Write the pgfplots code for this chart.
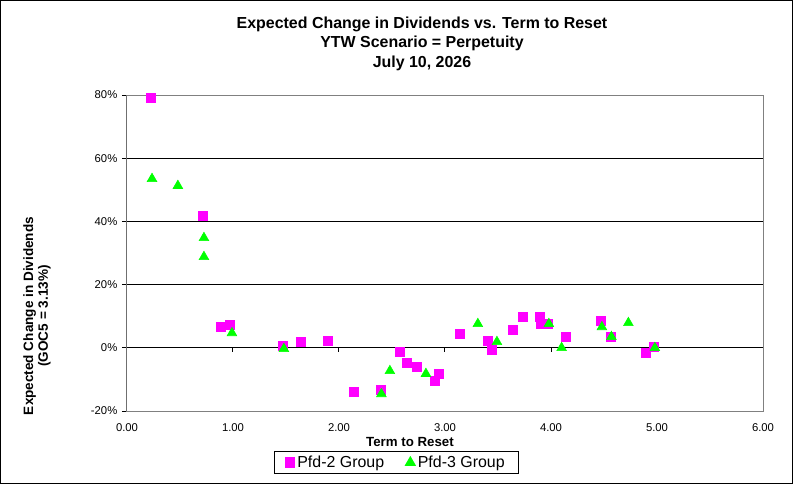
\documentclass[border=0pt]{standalone}
\usepackage{fontspec}
\setmainfont{Liberation Sans}
\usepackage{pgfplots}
\pgfplotsset{compat=1.18}
\definecolor{pmag}{RGB}{255,0,255}
\definecolor{pgrn}{RGB}{0,255,0}
\definecolor{bordergray}{RGB}{128,128,128}
\begin{document}
\begin{tikzpicture}
\useasboundingbox (-95.25bp,-54.75bp) rectangle (499.5bp,308.25bp);
\draw[black,line width=0.9bp] (-94.8bp,-54.3bp) rectangle (499.05bp,307.8bp);
\begin{axis}[
  at={(0bp,0bp)}, anchor=south west,
  scale only axis, width=477bp, height=237bp,
  xmin=0, xmax=6, ymin=-20, ymax=80,
  xtick={0,1,2,3,4,5,6},
  ytick={-20,0,20,40,60,80},
  ytick pos=left,
  /pgf/number format/assume math mode=true,
  xticklabel={\pgfmathprintnumber[fixed,fixed zerofill,precision=2]{\tick}},
  yticklabel={\pgfmathprintnumber{\tick}\%},
  tick label style={font=\fontsize{8.5}{10}\selectfont},
  xticklabel style={yshift=-2bp},
  xtick style={draw=none},
  ytick style={black, line width=0.75bp},
  tick align=outside, major tick length=3.75bp,
  ymajorgrids, major grid style={black, line width=0.75bp},
  axis line style={bordergray, line width=0.75bp},
  legend columns=2,
  legend style={at={(axis description cs:0.4237,-0.163)}, anchor=center,
    draw=black, line width=0.75bp, font=\fontsize{12}{14}\selectfont,
    inner xsep=8.5bp, inner ysep=1.5bp,
    /tikz/every even column/.append style={column sep=14bp}},
  legend cell align=left,
]
\addplot[only marks, mark=square*, mark size=3.4bp, draw=pmag, fill=pmag] coordinates {
(0.226,79.1) (0.717,41.8) (0.887,6.6) (0.97,7.3) (1.47,0.6) (1.64,1.9) (1.89,2.2)
(2.14,-13.9) (2.39,-13.3) (2.57,-1.3) (2.64,-4.7) (2.73,-6.0) (2.90,-10.4) (2.94,-8.2)
(3.14,4.4) (3.40,2.2) (3.44,-0.6) (3.64,5.7) (3.73,9.8) (3.89,9.8) (3.90,7.6) (3.97,7.6)
(4.14,3.5) (4.47,8.5) (4.56,3.5) (4.89,-1.6) (4.97,0.3)
};
\addlegendentry{Pfd-2 Group}
\addplot[only marks, mark=triangle*, mark size=4.2bp, draw=pgrn, fill=pgrn] coordinates {
(0.236,53.5) (0.48,51.3) (0.726,34.8) (0.726,28.8) (0.99,4.7) (1.48,-0.3)
(2.40,-14.6) (2.48,-7.3) (2.82,-8.2) (3.31,7.6) (3.49,1.9) (3.98,7.6) (4.10,0.0)
(4.48,6.6) (4.57,3.5) (4.73,7.9) (4.98,0.0)
};
\addlegendentry{Pfd-3 Group}
\draw[black, line width=0.75bp] (rel axis cs:0,0) -- (rel axis cs:0,1);
\pgfplotsinvokeforeach{1,2,3,4,5}{\draw[black, line width=0.75bp] (axis cs:#1,0) -- ++(0bp,-3.5bp);}
\end{axis}
\node[align=center, font=\bfseries\fontsize{12}{14.5}\selectfont] at (221.25bp,275.5bp)
  {Expected Change in Dividends vs. Term to Reset\\YTW Scenario = Perpetuity\\July 10, 2026};
\node[rotate=90, align=center, font=\bfseries\fontsize{10.2}{11}\selectfont] at (-67.5bp,71.25bp)
  {Expected Change in Dividends\\(GOC5 = 3.13\%)};
\node[font=\bfseries\fontsize{10}{12}\selectfont] at (212.25bp,-23.25bp) {Term to Reset};
\end{tikzpicture}
\end{document}
